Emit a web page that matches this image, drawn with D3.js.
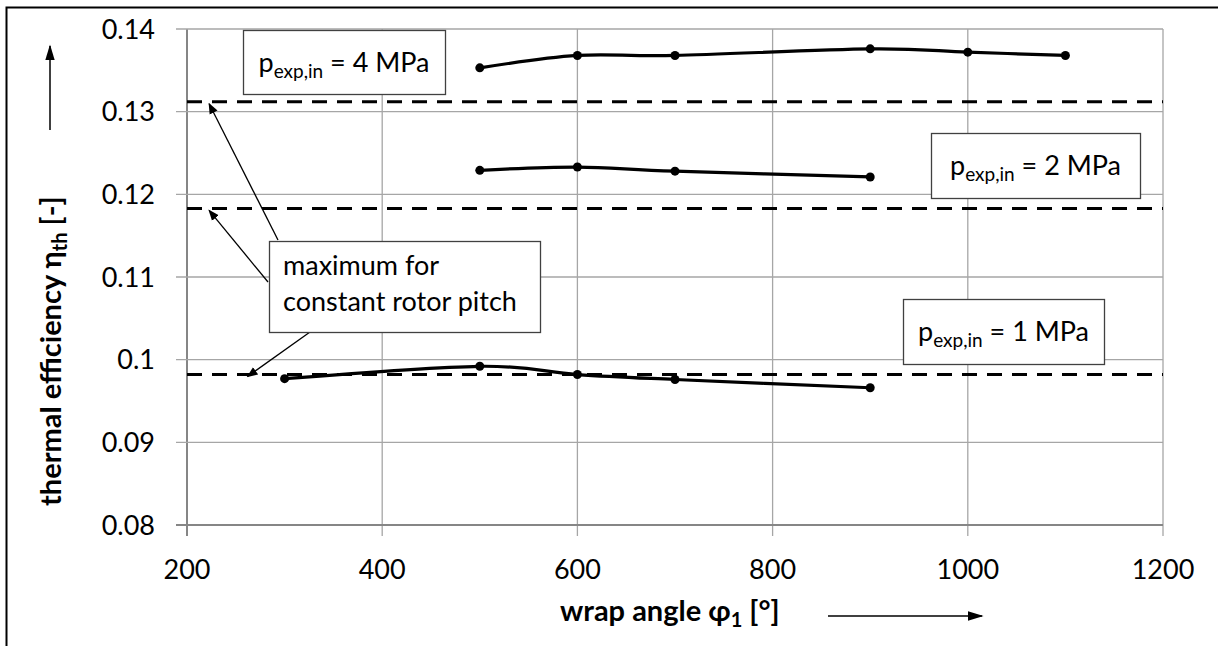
<!DOCTYPE html>
<html>
<head>
<meta charset="utf-8">
<script src="https://cdn.jsdelivr.net/npm/d3@7"></script>
<style>
  body { margin: 0; background: #fff; }
  svg { display: block; font-family: Lato, "Open Sans", sans-serif; }
  .tick-label { font-size: 27px; fill: #000; }
  .axis-title { font-size: 29px; font-weight: bold; fill: #000; }
  .note { font-size: 27px; fill: #000; }
</style>
</head>
<body>
<svg id="chart" width="1218" height="646"></svg>
<script>
// wrap angle values and measured thermal efficiency per expander inlet pressure
const angles4 = [500, 600, 700, 900, 1000, 1100];
const eff4 = [0.1353, 0.1368, 0.1368, 0.1376, 0.1372, 0.1368];
const angles2 = [500, 600, 700, 900];
const eff2 = [0.1229, 0.1233, 0.1228, 0.1221];
const angles1 = [300, 500, 600, 700, 900];
const eff1 = [0.0977, 0.0992, 0.0982, 0.0976, 0.0966];
// maximum for constant rotor pitch (4, 2, 1 MPa)
const maxLevels = [0.1312, 0.1183, 0.0982];
const xTicks = [200, 400, 600, 800, 1000, 1200];
const yTicks = [0.08, 0.09, 0.10, 0.11, 0.12, 0.13, 0.14];
const yTickLabels = ['0.08', '0.09', '0.1', '0.11', '0.12', '0.13', '0.14'];

const svg = d3.select('#chart');
const plotL = 187, plotR = 1163, plotT = 29, plotB = 525;

const x = d3.scaleLinear().domain([200, 1200]).range([plotL, plotR]);
const y = d3.scaleLinear().domain([0.08, 0.14]).range([plotB, plotT]);

// outer frame (runs past the right and bottom edges of the picture)
svg.append('rect')
  .attr('x', 6.5).attr('y', 7.5)
  .attr('width', 1240).attr('height', 700)
  .attr('fill', 'none').attr('stroke', '#000').attr('stroke-width', 2);

const defs = svg.append('defs');
defs.append('marker')
  .attr('id', 'head')
  .attr('viewBox', '0 0 10 10')
  .attr('refX', 9).attr('refY', 5)
  .attr('markerWidth', 11).attr('markerHeight', 11)
  .attr('markerUnits', 'userSpaceOnUse')
  .attr('orient', 'auto')
  .append('path').attr('d', 'M0,1 L10,5 L0,9 Z').attr('fill', '#000');
defs.append('marker')
  .attr('id', 'bighead')
  .attr('viewBox', '0 0 10 10')
  .attr('refX', 9).attr('refY', 5)
  .attr('markerWidth', 16).attr('markerHeight', 16)
  .attr('markerUnits', 'userSpaceOnUse')
  .attr('orient', 'auto')
  .append('path').attr('d', 'M0,2 L10,5 L0,8 Z').attr('fill', '#000');

// grid
const grid = svg.append('g');
grid.selectAll('.vg').data(xTicks).join('line')
  .attr('x1', d => x(d)).attr('x2', d => x(d))
  .attr('y1', plotT).attr('y2', plotB + 11)
  .attr('stroke', d => d === 200 ? '#868686' : '#a6a6a6')
  .attr('stroke-width', d => d === 200 ? 2 : 1.3);
grid.selectAll('.hg').data(yTicks).join('line')
  .attr('x1', plotL - 11).attr('x2', plotR)
  .attr('y1', d => y(d)).attr('y2', d => y(d))
  .attr('stroke', d => d === 0.08 ? '#868686' : '#a6a6a6')
  .attr('stroke-width', d => d === 0.08 ? 2 : 1.3);

// tick labels
svg.append('g').selectAll('text').data(yTicks).join('text')
  .attr('class', 'tick-label')
  .attr('x', 155).attr('y', d => y(d))
  .attr('dy', '0.36em')
  .attr('text-anchor', 'end')
  .text((d, i) => yTickLabels[i]);
svg.append('g').selectAll('text').data(xTicks).join('text')
  .attr('class', 'tick-label')
  .attr('x', d => x(d)).attr('y', 579)
  .attr('text-anchor', 'middle')
  .text(d => d);

// maximum levels (dashed)
svg.append('g').selectAll('line').data(maxLevels).join('line')
  .attr('x1', plotL).attr('x2', plotR)
  .attr('y1', d => y(d)).attr('y2', d => y(d))
  .attr('stroke', '#000').attr('stroke-width', 3)
  .attr('stroke-dasharray', '15 10');

// measured series
const series = [
  { xs: angles4, ys: eff4 },
  { xs: angles2, ys: eff2 },
  { xs: angles1, ys: eff1 }
];
const line = d3.line().x(d => x(d[0])).y(d => y(d[1])).curve(d3.curveCatmullRom.alpha(0));
series.forEach(s => {
  const pts = s.xs.map((a, i) => [a, s.ys[i]]);
  svg.append('path')
    .attr('d', line(pts))
    .attr('fill', 'none').attr('stroke', '#000').attr('stroke-width', 3.2);
  svg.append('g').selectAll('circle').data(pts).join('circle')
    .attr('cx', d => x(d[0])).attr('cy', d => y(d[1]))
    .attr('r', 4.5).attr('fill', '#000');
});

// pressure labels
const pressNotes = [
  { text: '4 MPa', x: 243, y: 30, w: 202, h: 64 },
  { text: '2 MPa', x: 931, y: 133, w: 209, h: 65 },
  { text: '1 MPa', x: 903, y: 299, w: 201, h: 65 }
];
pressNotes.forEach(n => {
  const g = svg.append('g').attr('transform', `translate(${n.x},${n.y})`);
  g.append('rect')
    .attr('x', 0.5).attr('y', 0.5).attr('width', n.w).attr('height', n.h)
    .attr('fill', '#fff').attr('stroke', '#404040').attr('stroke-width', 1.3);
  const t = g.append('text').attr('class', 'note')
    .attr('x', n.w / 2).attr('y', 42).attr('text-anchor', 'middle');
  t.append('tspan').text('p');
  t.append('tspan').attr('font-size', '19px').attr('dy', 6).text('exp,in');
  t.append('tspan').attr('dy', -6).text(' = ' + n.text);
});

// arrows from the "maximum" note to the dashed lines
const tipX = x(237);
const arrows = [
  { x0: 278, y0: 240, level: maxLevels[0] },
  { x0: 268, y0: 282, level: maxLevels[1] },
  { x0: 310, y0: 332, level: maxLevels[2] }
];
const tips = [tipX - 14, tipX - 14, x(262)];
svg.append('g').selectAll('line').data(arrows).join('line')
  .attr('x1', d => d.x0).attr('y1', d => d.y0)
  .attr('x2', (d, i) => tips[i]).attr('y2', d => y(d.level) + 2)
  .attr('stroke', '#000').attr('stroke-width', 1.3)
  .attr('marker-end', 'url(#head)');

const maxNote = svg.append('g').attr('transform', 'translate(269,241)');
maxNote.append('rect')
  .attr('x', 0.5).attr('y', 0.5).attr('width', 271).attr('height', 91)
  .attr('fill', '#fff').attr('stroke', '#404040').attr('stroke-width', 1.3);
maxNote.append('text').attr('class', 'note').attr('x', 14).attr('y', 34).text('maximum for');
maxNote.append('text').attr('class', 'note').attr('x', 14).attr('y', 70).text('constant rotor pitch');

// axis titles
const xt = svg.append('text').attr('class', 'axis-title')
  .attr('x', 560).attr('y', 621);
xt.append('tspan').text('wrap angle φ');
xt.append('tspan').attr('font-size', '20px').attr('dy', 6).text('1');
xt.append('tspan').attr('dy', -6).text(' [°]');
svg.append('line')
  .attr('x1', 828).attr('x2', 982).attr('y1', 616).attr('y2', 616)
  .attr('stroke', '#000').attr('stroke-width', 1.5)
  .attr('marker-end', 'url(#bighead)');

const yt = svg.append('text').attr('class', 'axis-title')
  .attr('transform', 'translate(61,506) rotate(-90)');
yt.append('tspan').text('thermal efficiency η');
yt.append('tspan').attr('font-size', '20px').attr('dy', 6).text('th');
yt.append('tspan').attr('dy', -6).text(' [-]');
svg.append('line')
  .attr('x1', 50).attr('x2', 50).attr('y1', 130).attr('y2', 46)
  .attr('stroke', '#000').attr('stroke-width', 1.5)
  .attr('marker-end', 'url(#bighead)');
</script>
</body>
</html>
